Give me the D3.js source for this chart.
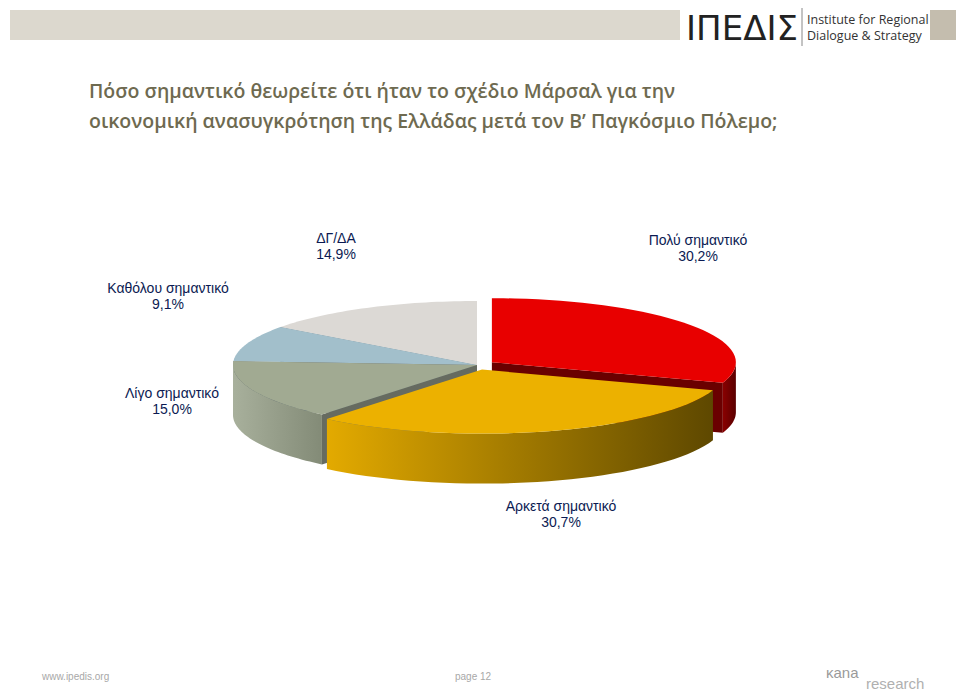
<!DOCTYPE html>
<html><head><meta charset="utf-8">
<script src="https://cdn.jsdelivr.net/npm/d3@7"></script>
<style>body{margin:0;background:#fff}</style>
</head><body>
<div id="chart"></div>
<script>
// survey answers, clockwise from 12 o'clock
const categories = ["Πολύ σημαντικό", "Αρκετά σημαντικό", "Λίγο σημαντικό", "Καθόλου σημαντικό", "ΔΓ/ΔΑ"]
const values = [30.2, 30.7, 15.0, 9.1, 14.9]
const valueLabels = ["30,2%", "30,7%", "15,0%", "9,1%", "14,9%"]
const exploded = [true, true, false, false, false]

const W = 959, H = 691
const cx = 477, cy = 365, rx = 244, ry = 64, depth = 50, explode = 0.075

const tops = ["#e80000", "#ecb100", "#a1aa92", "#a2bfcb", "#dcd9d5"]
const walls = [["#8a0000", "#5a0000"], ["#e3aa00", "#5e4800"], ["#a8b09c", "#838b77"], ["#9ab4be", "#80979f"], ["#cfcbc7", "#b0aca8"]]
const radial = ["#6a0000", "#6a5000", "#666b60", "#5d6a6e", "#6b6b6b"]
const labelPos = [[698, 245], [561, 511], [172, 398], [168, 293], [336, 243]]

let svg = d3.select("#chart").append("svg").attr("width", W).attr("height", H)
let defs = svg.append("defs")

// header
svg.append("rect").attr("x", 10).attr("y", 10).attr("width", 670).attr("height", 30).attr("fill", "#dcd8ce")
svg.append("rect").attr("x", 930).attr("y", 10).attr("width", 26).attr("height", 30).attr("fill", "#c4bdae")
svg.append("text").attr("x", 686).attr("y", 40).attr("font-family", "DejaVu Sans").attr("font-size", 34)
    .attr("fill", "#222").attr("textLength", 112).text("ΙΠΕΔΙΣ")
svg.append("line").attr("x1", 802).attr("x2", 802).attr("y1", 8).attr("y2", 46).attr("stroke", "#888")
svg.append("text").attr("x", 807).attr("y", 24).attr("font-family", "Open Sans").attr("font-size", 12.5).attr("fill", "#333").text("Institute for Regional")
svg.append("text").attr("x", 807).attr("y", 40).attr("font-family", "Open Sans").attr("font-size", 12.5).attr("fill", "#333").text("Dialogue & Strategy")

// title
let title = svg.append("text").attr("font-family", "Open Sans").attr("font-size", 19.5).attr("font-weight", 600).attr("fill", "#6e6a50")
title.append("tspan").attr("x", 89).attr("y", 98).text("Πόσο σημαντικό θεωρείτε ότι ήταν το σχέδιο Μάρσαλ για την")
title.append("tspan").attr("x", 89).attr("y", 128).text("οικονομική ανασυγκρότηση της Ελλάδας μετά τον Β’ Παγκόσμιο Πόλεμο;")

// pie
let arcs = d3.pie().sort(null).value(d => d)(values)
arcs.forEach((a, i) => {
    let m = (a.startAngle + a.endAngle) / 2
    let e = exploded[i] ? explode : 0
    a.ox = cx + e * rx * Math.sin(m)
    a.oy = cy - e * ry * Math.cos(m)
    a.i = i
})
const pt = (a, t, dz) => [a.ox + rx * Math.sin(t), a.oy - ry * Math.cos(t) + (dz || 0)]
const arcPts = (a, t0, t1, dz) => d3.range(0, 41).map(k => pt(a, t0 + (t1 - t0) * k / 40, dz))
const line = d3.line()

let order = arcs.slice().sort((p, q) => -Math.cos((p.startAngle + p.endAngle) / 2) + Math.cos((q.startAngle + q.endAngle) / 2))
let g = svg.append("g")
order.forEach(a => {
    let i = a.i
    let grad = defs.append("linearGradient").attr("id", "w" + i).attr("x1", "0").attr("x2", "1").attr("y1", "0").attr("y2", "0")
    grad.append("stop").attr("offset", "0").attr("stop-color", walls[i][0])
    grad.append("stop").attr("offset", "1").attr("stop-color", walls[i][1])
    // radial walls
    let c = [a.ox, a.oy]
    if (Math.sin(a.startAngle) < -1e-6) {
        let p = pt(a, a.startAngle)
        g.append("path").attr("d", line([c, p, [p[0], p[1] + depth], [c[0], c[1] + depth]]) + "Z").attr("fill", radial[i])
    }
    if (Math.sin(a.endAngle) > 1e-6) {
        let p = pt(a, a.endAngle)
        g.append("path").attr("d", line([c, p, [p[0], p[1] + depth], [c[0], c[1] + depth]]) + "Z").attr("fill", radial[i])
    }
    // outer wall
    let t0 = Math.max(a.startAngle, Math.PI / 2), t1 = Math.min(a.endAngle, 3 * Math.PI / 2)
    if (t1 > t0) {
        let up = arcPts(a, t0, t1, 0), down = arcPts(a, t0, t1, depth).reverse()
        g.append("path").attr("d", line(up.concat(down)) + "Z").attr("fill", `url(#w${i})`)
    }
    // top
    g.append("path").attr("d", line([c].concat(arcPts(a, a.startAngle, a.endAngle, 0))) + "Z").attr("fill", tops[i])
})

// labels
labelPos.forEach((p, i) => {
    let t = svg.append("text").attr("text-anchor", "middle").attr("font-family", "Liberation Sans").attr("font-size", 14).attr("fill", "#0b1a52")
    t.append("tspan").attr("x", p[0]).attr("y", p[1]).text(categories[i])
    t.append("tspan").attr("x", p[0]).attr("y", p[1] + 16).text(valueLabels[i])
})

// footer
svg.append("text").attr("x", 42).attr("y", 680).attr("font-family", "Liberation Sans").attr("font-size", 10).attr("fill", "#a8a8a8").text("www.ipedis.org")
svg.append("text").attr("x", 455).attr("y", 680).attr("font-family", "Liberation Sans").attr("font-size", 10).attr("fill", "#a8a8a8").text("page 12")
svg.append("text").attr("x", 826).attr("y", 678).attr("font-family", "Liberation Sans").attr("font-size", 15).attr("fill", "#9a9a9a").text("κana")
svg.append("text").attr("x", 866).attr("y", 689).attr("font-family", "Liberation Sans").attr("font-size", 15).attr("fill", "#b0b0b0").text("research")
</script>
</body></html>
